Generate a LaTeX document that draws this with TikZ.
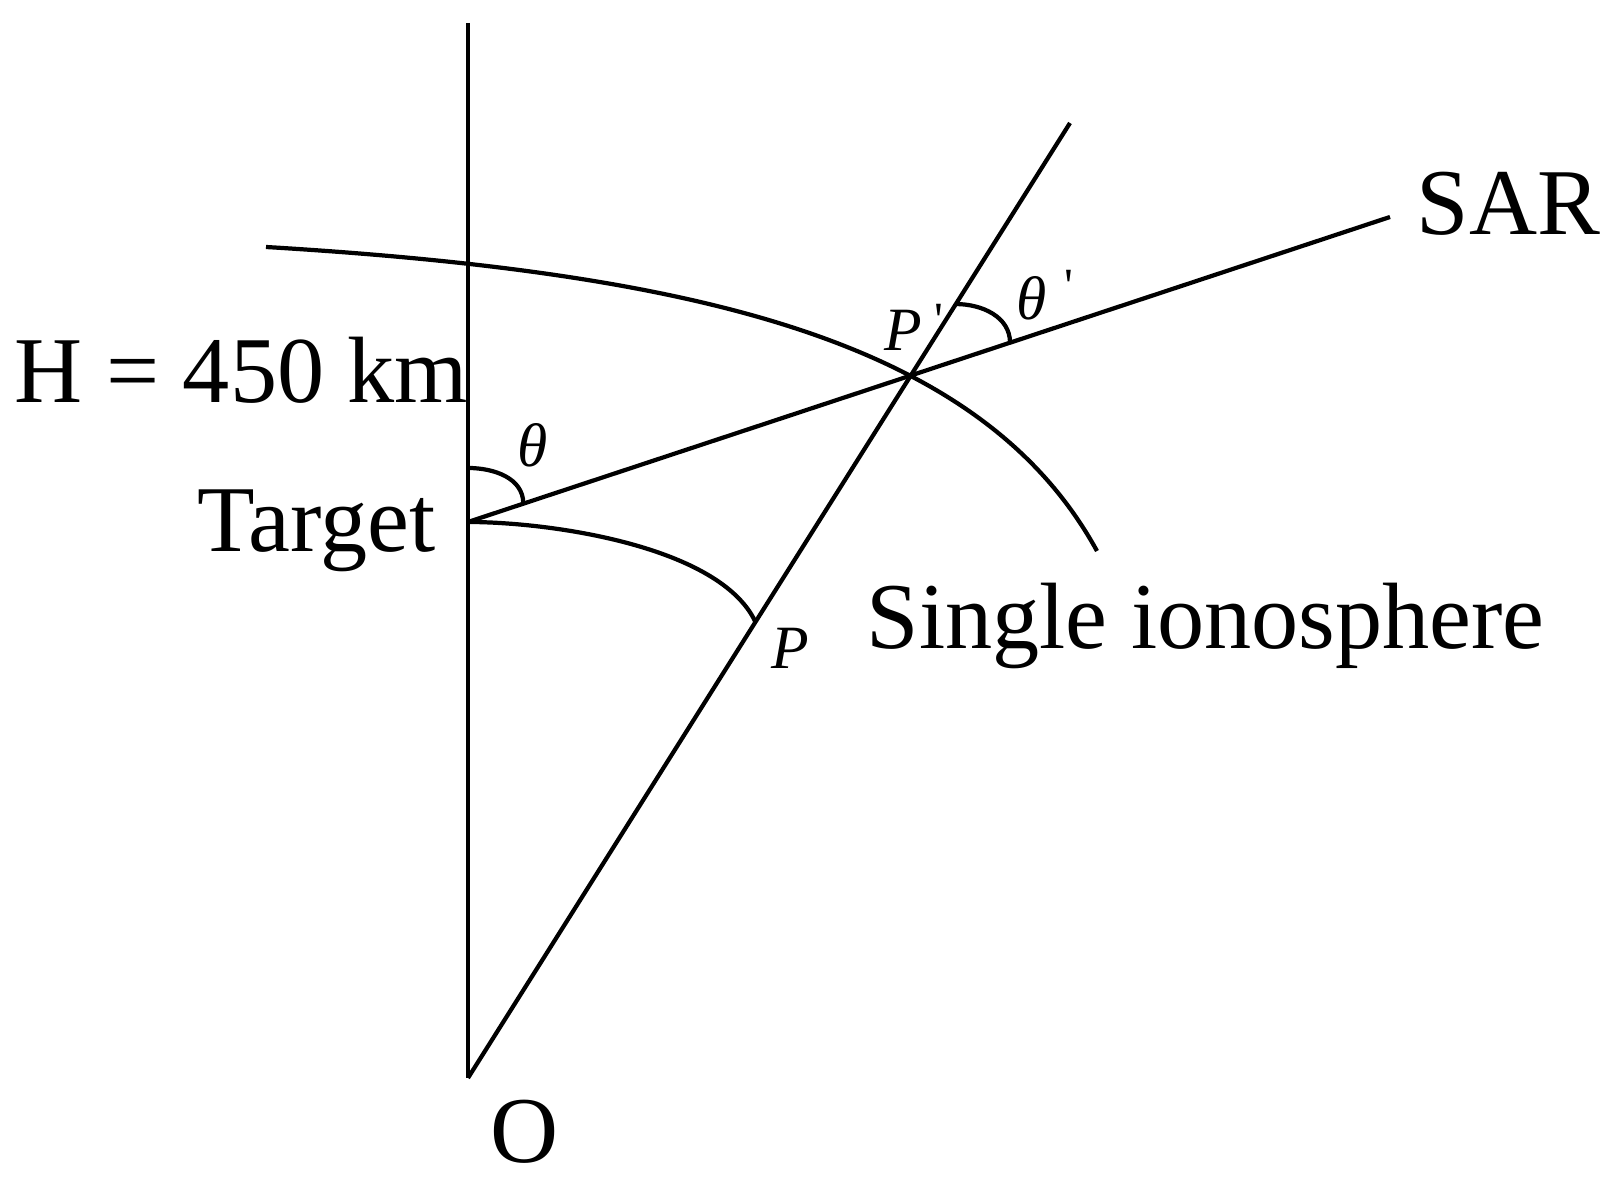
\documentclass[tikz,border=0pt]{standalone}
\usepackage{fontspec}
\setmainfont{Liberation Serif}
\usetikzlibrary{calc}
\newcommand{\bigtext}{\fontsize{26.8}{30}\selectfont}
\newcommand{\mathlabel}{\fontsize{17.5}{20}\selectfont\itshape}
\newcommand{\quarterarc}[2]{\draw[geo] ( #1 ) to[out=0,in=90] ( #2 );}
\newcommand{\primed}[3]{#1\hspace{#2}\raisebox{#3}{\fontsize{14}{16}\selectfont\upshape\textquotesingle}}

\begin{document}
\begin{tikzpicture}[x=0.01cm, y=-0.01cm,
    geo/.style={line width=1.2pt},
    big/.style={inner sep=0pt, font=\bigtext},
    sym/.style={inner sep=0pt, font=\mathlabel}]
        \useasboundingbox (0,0) rectangle (1623,1192);
        % points
        \coordinate (top) at (468,23);
        \coordinate (O) at (468,1078);
        \coordinate (target) at (468,522);
        \coordinate (sar) at (1390,217);
        \coordinate (ray) at (1070,123);
        \coordinate (pp) at (intersection of target--sar and O--ray);
        \coordinate (p) at ($(O)!0.4775!(ray)$);
        % lines
        \draw[geo] (top) -- (O);
        \draw[geo] (O) -- (ray);
        \draw[geo] (target) -- (sar);
        % ionosphere
        \draw[geo] (266,247) .. controls (716,274) and (985,347) .. (1097,551);
        \draw[geo] (target) to[out=0,in=115,looseness=0.7] (p);
        % angles
        \quarterarc{468,468}{$(target)!0.06!(sar)$}
        \quarterarc{$(pp)!0.283!(ray)$}{$(pp)!0.207!(sar)$}
        % labels
        \node[big, anchor=base east] (hlabel) at (469,403) {H = 450 km};
        \node[big, anchor=base east] (targetlabel) at (436,552) {Target};
        \node[big, anchor=base] (olabel) at (525,1163) {O};
        \node[big, anchor=base west] (sarlabel) at (1416,235) {SAR};
        \node[big, anchor=base west] (ionolabel) at (866,649) {Single ionosphere};
        \node[sym] (thetalabel) at (533,445) {θ};
        \node[sym, anchor=west] (thetaplabel) at (1016,295) {\primed{θ}{5pt}{5pt}};
        \node[sym, anchor=west] (pplabel) at (884,327) {\primed{P}{3.5pt}{4pt}};
        \node[sym] (plabel) at (790,648) {P};
    \end{tikzpicture}
\end{document}
